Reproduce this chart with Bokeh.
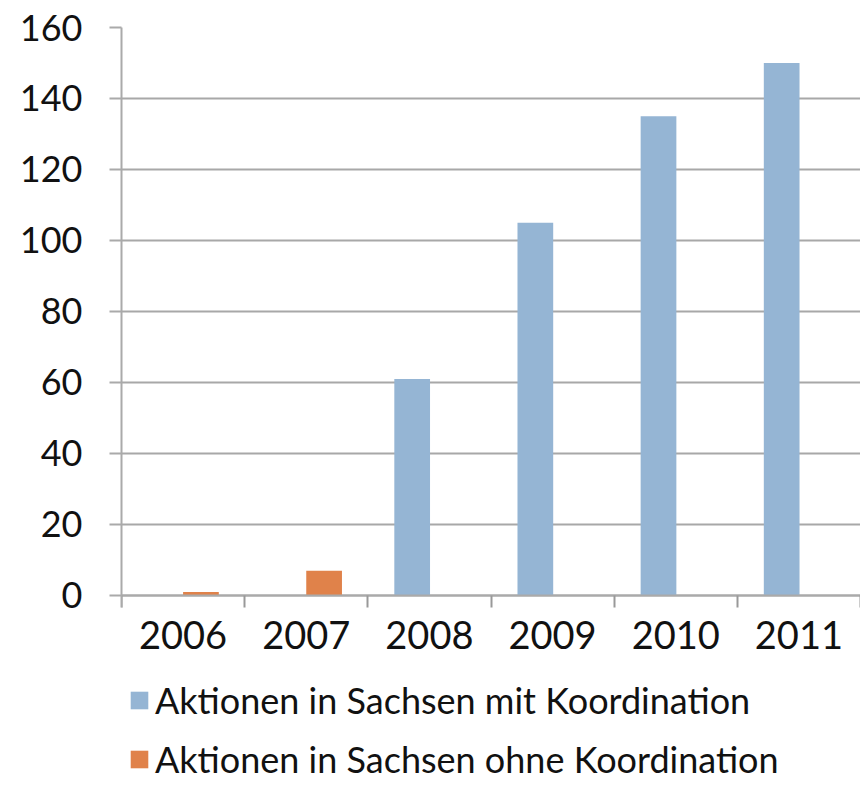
from bokeh.plotting import figure
from bokeh.models import (ColumnDataSource, FixedTicker, Legend, LegendItem,
                          Range1d)
from bokeh.embed import file_html
from bokeh.resources import INLINE

years = ["2006", "2007", "2008", "2009", "2010", "2011"]
mit_koordination = [0, 0, 61, 105, 135, 150]
ohne_koordination = [1, 7, 0, 0, 0, 0]
series_names = ["Aktionen in Sachsen mit Koordination",
                "Aktionen in Sachsen ohne Koordination"]
y_ticks = [0, 20, 40, 60, 80, 100, 120, 140, 160]

FONT = "Lato"
BLUE = "#95B5D4"
ORANGE = "#E0824A"

centers = [i + 0.5 for i in range(len(years))]
src = ColumnDataSource(dict(
    x_mit=[c - 0.14 for c in centers],
    x_ohne=[c + 0.145 for c in centers],
    mit=mit_koordination,
    ohne=ohne_koordination,
))

# frame extends below zero to leave room for the axis labels and legend
p = figure(width=860, height=781, output_backend="svg", toolbar_location=None,
           x_range=Range1d(0, len(years)), y_range=Range1d(-52.4, 160),
           min_border_left=121, min_border_right=0, min_border_top=27,
           min_border_bottom=0)
p.outline_line_color = None
p.background_fill_color = "white"

r1 = p.vbar(x="x_mit", top="mit", width=0.29, source=src,
            fill_color=BLUE, line_color=None)
r2 = p.vbar(x="x_ohne", top="ohne", width=0.29, source=src,
            fill_color=ORANGE, line_color=None)

# grid
p.xgrid.grid_line_color = None
p.ygrid.ticker = FixedTicker(ticks=y_ticks)
p.ygrid.grid_line_color = "#A8A8A8"
p.ygrid.grid_line_width = 2

# y axis
p.yaxis.ticker = FixedTicker(ticks=y_ticks)
p.yaxis.bounds = (-3.4, 160)
p.yaxis.axis_line_color = "#AAAAAA"
p.yaxis.axis_line_width = 2
p.yaxis.major_tick_line_color = "#AAAAAA"
p.yaxis.major_tick_line_width = 2
p.yaxis.major_tick_out = 12
p.yaxis.major_tick_in = 0
p.yaxis.minor_tick_line_color = None
p.yaxis.major_label_standoff = 27
p.yaxis.major_label_text_font = FONT
p.yaxis.major_label_text_font_size = "36px"
p.yaxis.major_label_text_color = "#111111"

# x axis at y=0: labels at category centers, ticks at boundaries
p.xaxis.fixed_location = 0
p.xaxis.ticker = FixedTicker(ticks=centers,
                             minor_ticks=list(range(len(years) + 1)))
p.xaxis.major_label_overrides = {c: y for c, y in zip(centers, years)}
p.xaxis.major_tick_line_color = None
p.xaxis.minor_tick_line_color = "#999999"
p.xaxis.minor_tick_line_width = 2
p.xaxis.minor_tick_out = 12
p.xaxis.minor_tick_in = 0
p.xaxis.axis_line_color = "#AAAAAA"
p.xaxis.axis_line_width = 2
p.xaxis.major_label_standoff = 14
p.xaxis.major_label_text_font = FONT
p.xaxis.major_label_text_font_size = "38px"
p.xaxis.major_label_text_color = "#111111"

legend = Legend(items=[LegendItem(label=series_names[0], renderers=[r1]),
                       LegendItem(label=series_names[1], renderers=[r2])],
                orientation="vertical", location=(7, 0))
legend.border_line_color = None
legend.background_fill_alpha = 0
legend.margin = 0
legend.padding = 0
legend.glyph_width = 22
legend.glyph_height = 22
legend.label_height = 40
legend.label_standoff = 5
legend.spacing = 15
legend.label_text_font = FONT
legend.label_text_font_size = "36px"
legend.label_text_color = "#111111"
p.add_layout(legend, "center")

open("out.html", "w").write(file_html(p, INLINE))
